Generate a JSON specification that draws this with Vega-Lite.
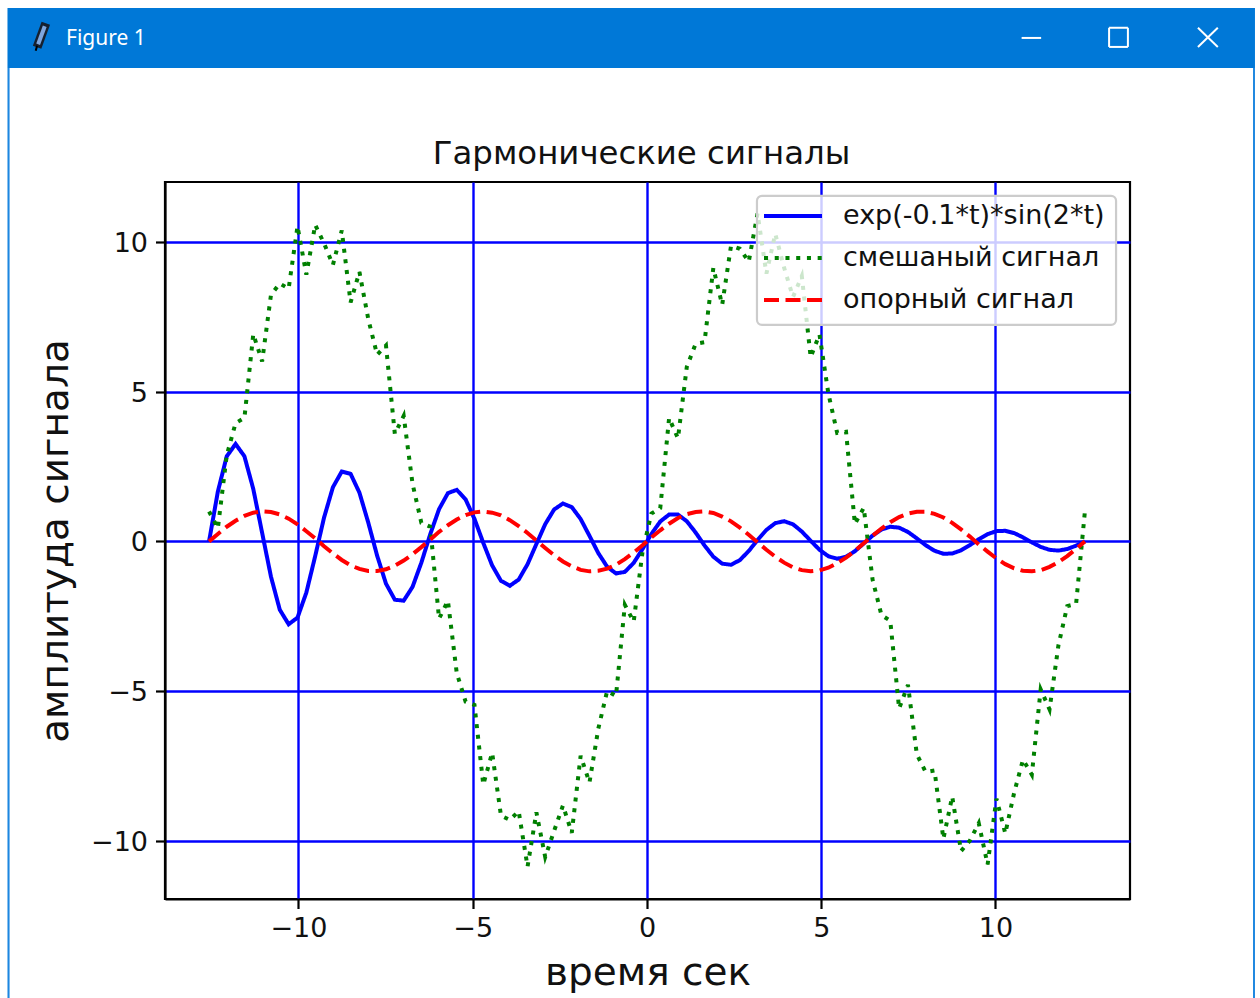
{"$schema":"https://vega.github.io/schema/vega-lite/v6.json","width":965,"height":717,"autosize":"none","padding":{"left":165,"top":182,"right":130,"bottom":99},"background":"white","config":{"font":"DejaVu Sans","view":{"stroke":"#000","strokeWidth":2.2}},"title":{"text":"Гармонические сигналы","fontSize":32.4,"fontWeight":"normal","color":"#111","dx":-6,"offset":-162},"datasets":{"signals":[
{"t":-12.566,"damped":0,"mixed":1,"reference":0},{"t":-12.313,"damped":1.665,"mixed":0.44,"reference":0.25},{"t":-12.059,"damped":2.839,"mixed":2.87,"reference":0.49},{"t":-11.805,"damped":3.252,"mixed":3.95,"reference":0.69},{"t":-11.551,"damped":2.843,"mixed":4.12,"reference":0.85},{"t":-11.297,"damped":1.752,"mixed":6.92,"reference":0.96},{"t":-11.043,"damped":0.287,"mixed":6.01,"reference":1},{"t":-10.789,"damped":-1.179,"mixed":8.23,"reference":0.98},{"t":-10.536,"damped":-2.283,"mixed":8.61,"reference":0.9},{"t":-10.282,"damped":-2.767,"mixed":8.44,"reference":0.76},
{"t":-10.028,"damped":-2.546,"mixed":10.52,"reference":0.57},{"t":-9.774,"damped":-1.708,"mixed":8.91,"reference":0.34},{"t":-9.52,"damped":-0.49,"mixed":10.57,"reference":0.1},{"t":-9.266,"damped":0.796,"mixed":9.95,"reference":-0.16},{"t":-9.012,"damped":1.809,"mixed":9.23,"reference":-0.4},{"t":-8.758,"damped":2.333,"mixed":10.38,"reference":-0.62},{"t":-8.505,"damped":2.256,"mixed":7.98,"reference":-0.8},{"t":-8.251,"damped":1.628,"mixed":9,"reference":-0.92},{"t":-7.997,"damped":0.627,"mixed":7.42,"reference":-0.99},{"t":-7.743,"damped":-0.476,"mixed":6.23,"reference":-0.99},
{"t":-7.489,"damped":-1.411,"mixed":6.54,"reference":-0.93},{"t":-7.235,"damped":-1.948,"mixed":3.59,"reference":-0.81},{"t":-6.981,"damped":-1.979,"mixed":4.19,"reference":-0.64},{"t":-6.728,"damped":-1.521,"mixed":1.93,"reference":-0.43},{"t":-6.474,"damped":-0.71,"mixed":0.62,"reference":-0.19},{"t":-6.22,"damped":0.236,"mixed":0.49,"reference":0.06},{"t":-5.966,"damped":1.077,"mixed":-2.58,"reference":0.32},{"t":-5.712,"damped":1.611,"mixed":-1.98,"reference":0.54},{"t":-5.458,"damped":1.721,"mixed":-4.4,"reference":0.73},{"t":-5.204,"damped":1.401,"mixed":-5.35,"reference":0.88},
{"t":-4.95,"damped":0.752,"mixed":-5.46,"reference":0.97},{"t":-4.697,"damped":-0.051,"mixed":-8.12,"reference":1},{"t":-4.443,"damped":-0.802,"mixed":-7.06,"reference":0.96},{"t":-4.189,"damped":-1.317,"mixed":-9.16,"reference":0.87},{"t":-3.935,"damped":-1.482,"mixed":-9.3,"reference":0.71},{"t":-3.681,"damped":-1.274,"mixed":-9.01,"reference":0.51},{"t":-3.427,"damped":-0.762,"mixed":-10.86,"reference":0.28},{"t":-3.173,"damped":-0.087,"mixed":-9.05,"reference":0.03},{"t":-2.92,"damped":0.576,"mixed":-10.54,"reference":-0.22},{"t":-2.666,"damped":1.063,"mixed":-9.67,"reference":-0.46},
{"t":-2.412,"damped":1.265,"mixed":-8.82,"reference":-0.67},{"t":-2.158,"damped":1.145,"mixed":-9.73,"reference":-0.83},{"t":-1.904,"damped":0.748,"mixed":-7.16,"reference":-0.95},{"t":-1.65,"damped":0.186,"mixed":-8.05,"reference":-1},{"t":-1.396,"damped":-0.393,"mixed":-6.25,"reference":-0.98},{"t":-1.142,"damped":-0.847,"mixed":-4.99,"reference":-0.91},{"t":-0.889,"damped":-1.07,"mixed":-5.16,"reference":-0.78},{"t":-0.635,"damped":-1.017,"mixed":-2.12,"reference":-0.59},{"t":-0.381,"damped":-0.717,"mixed":-2.68,"reference":-0.37},{"t":-0.127,"damped":-0.254,"mixed":-0.34,"reference":-0.13},
{"t":0.127,"damped":0.248,"mixed":0.93,"reference":0.13},{"t":0.381,"damped":0.664,"mixed":1.11,"reference":0.37},{"t":0.635,"damped":0.896,"mixed":4.12,"reference":0.59},{"t":0.889,"damped":0.895,"mixed":3.44,"reference":0.78},{"t":1.142,"damped":0.674,"mixed":5.82,"reference":0.91},{"t":1.396,"damped":0.297,"mixed":6.6,"reference":0.98},{"t":1.65,"damped":-0.134,"mixed":6.65,"reference":1},{"t":1.904,"damped":-0.511,"mixed":9.13,"reference":0.95},{"t":2.158,"damped":-0.743,"mixed":7.9,"reference":0.83},{"t":2.412,"damped":-0.781,"mixed":9.87,"reference":0.67},
{"t":2.666,"damped":-0.624,"mixed":9.77,"reference":0.46},{"t":2.92,"damped":-0.321,"mixed":9.34,"reference":0.22},{"t":3.173,"damped":0.046,"mixed":10.95,"reference":-0.03},{"t":3.427,"damped":0.384,"mixed":8.94,"reference":-0.28},{"t":3.681,"damped":0.61,"mixed":10.27,"reference":-0.51},{"t":3.935,"damped":0.675,"mixed":9.14,"reference":-0.71},{"t":4.189,"damped":0.57,"mixed":8.16,"reference":-0.87},{"t":4.443,"damped":0.33,"mixed":8.86,"reference":-0.96},{"t":4.697,"damped":0.02,"mixed":6.15,"reference":-1},{"t":4.95,"damped":-0.279,"mixed":6.91,"reference":-0.97},
{"t":5.204,"damped":-0.495,"mixed":4.94,"reference":-0.88},{"t":5.458,"damped":-0.578,"mixed":3.62,"reference":-0.73},{"t":5.712,"damped":-0.514,"mixed":3.66,"reference":-0.54},{"t":5.966,"damped":-0.327,"mixed":0.58,"reference":-0.32},{"t":6.22,"damped":-0.068,"mixed":1.12,"reference":-0.06},{"t":6.474,"damped":0.194,"mixed":-1.28,"reference":0.19},{"t":6.728,"damped":0.396,"mixed":-2.46,"reference":0.43},{"t":6.981,"damped":0.49,"mixed":-2.65,"reference":0.64},{"t":7.235,"damped":0.458,"mixed":-5.58,"reference":0.81},{"t":7.489,"damped":0.315,"mixed":-4.79,"reference":0.93},
{"t":7.743,"damped":0.101,"mixed":-7.11,"reference":0.99},{"t":7.997,"damped":-0.127,"mixed":-7.7,"reference":0.99},{"t":8.251,"damped":-0.313,"mixed":-7.65,"reference":0.92},{"t":8.505,"damped":-0.412,"mixed":-9.93,"reference":0.8},{"t":8.758,"damped":-0.405,"mixed":-8.52,"reference":0.62},{"t":9.012,"damped":-0.298,"mixed":-10.34,"reference":0.4},{"t":9.266,"damped":-0.125,"mixed":-9.99,"reference":0.16},{"t":9.52,"damped":0.073,"mixed":-9.41,"reference":-0.1},{"t":9.774,"damped":0.242,"mixed":-10.79,"reference":-0.34},{"t":10.028,"damped":0.343,"mixed":-8.59,"reference":-0.57},
{"t":10.282,"damped":0.354,"mixed":-9.75,"reference":-0.76},{"t":10.536,"damped":0.278,"mixed":-8.39,"reference":-0.9},{"t":10.789,"damped":0.136,"mixed":-7.29,"reference":-0.98},{"t":11.043,"damped":-0.032,"mixed":-7.79,"reference":-1},{"t":11.297,"damped":-0.183,"mixed":-4.94,"reference":-0.96},{"t":11.551,"damped":-0.282,"mixed":-5.61,"reference":-0.85},{"t":11.805,"damped":-0.307,"mixed":-3.48,"reference":-0.69},{"t":12.059,"damped":-0.255,"mixed":-2.16,"reference":-0.49},{"t":12.313,"damped":-0.142,"mixed":-2.09,"reference":-0.25},{"t":12.566,"damped":0,"mixed":1,"reference":0}
]},"layer":[
{"data":{"name":"signals"},"transform":[{"fold":["damped","mixed","reference"],"as":["signal","amplitude"]}],"mark":{"type":"line","strokeWidth":4,"clip":false},"encoding":{
"x":{"field":"t","type":"quantitative","scale":{"domain":[-13.83,13.86],"nice":false,"zero":false},"axis":{"title":"время сек","titleFontSize":39,"titleFontWeight":"normal","titleColor":"#111","titlePadding":12,"values":[-10,-5,0,5,10],"labelFontSize":27,"labelColor":"#111","labelPadding":7,"tickSize":9.5,"tickWidth":2.2,"tickColor":"#000","domainColor":"#000","domainWidth":2.2,"gridColor":"#0000ff","gridWidth":2.4,"gridOpacity":1,"grid":true}},
"y":{"field":"amplitude","type":"quantitative","scale":{"domain":[-11.94,12],"nice":false,"zero":false},"axis":{"title":"амплитуда сигнала","titleFontSize":39,"titleFontWeight":"normal","titleColor":"#111","titlePadding":15,"values":[-10,-5,0,5,10],"labelFontSize":27,"labelColor":"#111","labelPadding":8,"labelOffset":1.5,"tickSize":9.5,"tickWidth":2.2,"tickColor":"#000","domainColor":"#000","domainWidth":2.2,"gridColor":"#0000ff","gridWidth":2.4,"gridOpacity":1,"grid":true}},
"color":{"field":"signal","type":"nominal","scale":{"domain":["damped","mixed","reference"],"range":["#0000ff","#008000","#ff0000"]},"legend":{"title":null,"orient":"none","legendX":597,"legendY":13.5,"padding":0,"zindex":1,"symbolType":"stroke","symbolSize":3364,"symbolStrokeWidth":4,"clipHeight":41.2,"rowPadding":0,"labelOffset":19,"labelFontSize":27,"labelColor":"#111","labelLimit":400,"labelExpr":"{'damped':'exp(-0.1*t)*sin(2*t)','mixed':'смешаный сигнал','reference':'опорный сигнал'}[datum.value]"}},
"strokeDash":{"field":"signal","type":"nominal","scale":{"domain":["damped","mixed","reference"],"range":[[1,0],[4.05,6.68],[15,6.5]]},"legend":{"title":null,"orient":"none","legendX":597,"legendY":13.5,"padding":0,"zindex":1,"symbolType":"stroke","symbolSize":3364,"symbolStrokeWidth":4,"clipHeight":41.2,"rowPadding":0,"labelOffset":19,"labelFontSize":27,"labelColor":"#111","labelLimit":400,"labelExpr":"{'damped':'exp(-0.1*t)*sin(2*t)','mixed':'смешаный сигнал','reference':'опорный сигнал'}[datum.value]"}}
}},
{"data":{"values":[{"x":3.156,"x2":13.46,"y":11.54,"y2":7.23}]},"mark":{"type":"rect","fill":"#ffffff","fillOpacity":0.8,"stroke":"#cccccc","strokeWidth":2.2,"cornerRadius":5},"encoding":{"x":{"field":"x","type":"quantitative"},"x2":{"field":"x2"},"y":{"field":"y","type":"quantitative"},"y2":{"field":"y2"}}},
{"data":{"values":[{"x":-18.29,"x2":-18.35,"y":15.81,"y2":-15.3},{"x":17.39,"x2":17.446,"y":15.81,"y2":-15.3}]},"mark":{"type":"rect","fill":"#1c86e0","clip":false},"encoding":{"x":{"field":"x","type":"quantitative"},"x2":{"field":"x2"},"y":{"field":"y","type":"quantitative"},"y2":{"field":"y2"}}},
{"data":{"values":[{"x":-18.35,"x2":17.446,"y":17.813,"y2":15.81}]},"mark":{"type":"rect","fill":"#0078d7","clip":false},"encoding":{"x":{"field":"x","type":"quantitative"},"x2":{"field":"x2"},"y":{"field":"y","type":"quantitative"},"y2":{"field":"y2"}}},
{"data":{"values":[{"x":-16.67,"y":16.77,"label":"Figure 1"}]},"mark":{"type":"text","align":"left","baseline":"middle","font":"Noto Sans","fontSize":21,"color":"#ffffff","clip":false},"encoding":{"x":{"field":"x","type":"quantitative"},"y":{"field":"y","type":"quantitative"},"text":{"field":"label"}}},
{"data":{"values":[{"x":10.75,"x2":11.31,"y":16.81,"y2":16.81},{"x":13.26,"x2":13.8,"y":17.15,"y2":17.15},{"x":13.26,"x2":13.8,"y":16.51,"y2":16.51},{"x":13.26,"x2":13.26,"y":17.15,"y2":16.51},{"x":13.8,"x2":13.8,"y":17.15,"y2":16.51},{"x":15.81,"x2":16.38,"y":17.15,"y2":16.51},{"x":15.81,"x2":16.38,"y":16.51,"y2":17.15}]},"mark":{"type":"rule","color":"#ffffff","strokeWidth":2,"clip":false},"encoding":{"x":{"field":"x","type":"quantitative"},"x2":{"field":"x2"},"y":{"field":"y","type":"quantitative"},"y2":{"field":"y2"}}},
{"data":{"values":[{"x":-17.5,"x2":-17.25,"y":16.5,"y2":17.3}]},"mark":{"type":"rule","color":"#16202e","strokeWidth":9,"clip":false},"encoding":{"x":{"field":"x","type":"quantitative"},"x2":{"field":"x2"},"y":{"field":"y","type":"quantitative"},"y2":{"field":"y2"}}},
{"data":{"values":[{"x":-17.54,"x2":-17.5,"y":16.38,"y2":16.55}]},"mark":{"type":"rule","color":"#000000","strokeWidth":2,"clip":false},"encoding":{"x":{"field":"x","type":"quantitative"},"x2":{"field":"x2"},"y":{"field":"y","type":"quantitative"},"y2":{"field":"y2"}}},
{"data":{"values":[{"x":-17.47,"x2":-17.28,"y":16.6,"y2":17.2}]},"mark":{"type":"rule","color":"#7fa6dd","strokeWidth":4,"clip":false},"encoding":{"x":{"field":"x","type":"quantitative"},"x2":{"field":"x2"},"y":{"field":"y","type":"quantitative"},"y2":{"field":"y2"}}}
]}
